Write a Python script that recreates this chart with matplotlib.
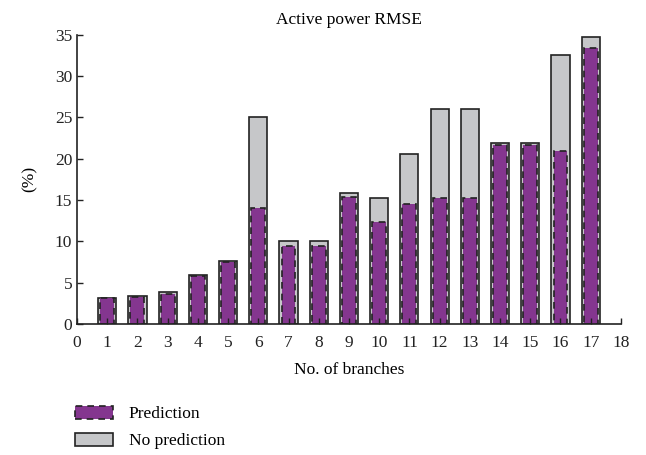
import numpy as np
import matplotlib.pyplot as plt
from matplotlib.patches import Patch

plt.rcParams['font.family'] = ['Liberation Serif', 'DejaVu Serif']

branches = np.arange(1, 18)
no_prediction = [3.2, 3.4, 3.9, 5.9, 7.6, 25.1, 10.1, 10.1, 15.8, 15.3,
                 20.6, 26.0, 26.0, 21.9, 21.9, 32.5, 34.7]
prediction = [3.1, 3.3, 3.6, 5.8, 7.5, 14.0, 9.4, 9.4, 15.4, 12.3,
              14.5, 15.2, 15.2, 21.6, 21.6, 20.9, 33.4]

grey = '#c6c7c9'
purple = '#84368f'

fig = plt.figure(figsize=(6.46, 4.55), dpi=100)
ax = fig.add_axes([0.1192, 0.2879, 0.842, 0.6358])

ax.bar(branches, no_prediction, width=0.6, color=grey, edgecolor='#222222', linewidth=1.2)
ax.bar(branches, prediction, width=0.46, color=purple, edgecolor='#222222',
       linewidth=1.2, linestyle=(0, (4, 3)))

ax.set_xlim(0, 18)
ax.set_ylim(0, 35)
ax.set_xticks(range(0, 19))
ax.set_yticks(range(0, 36, 5))
ax.tick_params(direction='in', labelsize=12.5, length=4, width=1, colors='#222222')
ax.tick_params(axis='x', pad=8)
for s in ['top', 'right']:
    ax.spines[s].set_visible(False)
for s in ['left', 'bottom']:
    ax.spines[s].set_linewidth(1.2)
    ax.spines[s].set_color('#222222')

ax.set_title('Active power RMSE', fontsize=12.5, pad=8)
ax.set_xlabel('No. of branches', fontsize=12.5, labelpad=8)
ax.set_ylabel('(%)', fontsize=12.5, labelpad=12)

handles = [Patch(facecolor=purple, edgecolor='#222222', linestyle=(0, (4, 3)), linewidth=1.2, label='Prediction'),
           Patch(facecolor=grey, edgecolor='#222222', linewidth=1.2, label='No prediction')]
fig.legend(handles=handles, loc='upper left', bbox_to_anchor=(0.105, 0.123),
           frameon=False, fontsize=12.5, handlelength=2.2, handleheight=0.75,
           labelspacing=0.6, handletextpad=0.9, borderaxespad=0)

fig.savefig('out.png', dpi=100)
